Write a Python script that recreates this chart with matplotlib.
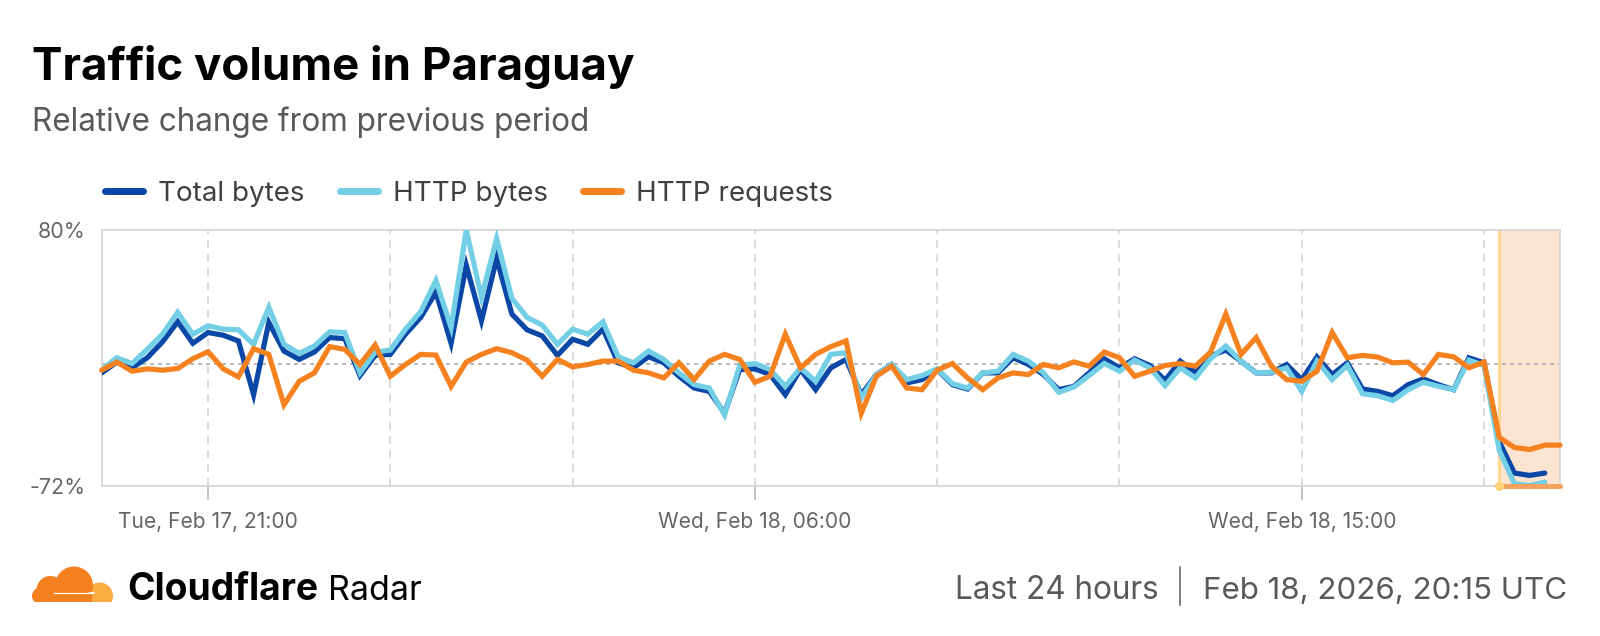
import numpy as np
import pandas as pd
import matplotlib
matplotlib.use("Agg")
import matplotlib.pyplot as plt
from matplotlib.patches import Circle, Rectangle, Polygon
from matplotlib.lines import Line2D

plt.rcParams['font.family'] = ['Inter', 'DejaVu Sans']

# ---------------- data ----------------
title = "Traffic volume in Paraguay"
subtitle = "Relative change from previous period"
series_names = ["Total bytes", "HTTP bytes", "HTTP requests"]
series_colors = ["#0a47a6", "#73cfe5", "#f6821f"]
start_time = "2026-02-17 19:15"

total_bytes = [
    -5, 1.4, -2, 4, 13.4, 25.4, 12.6, 19, 17.4, 14,
    -18, 25, 8, 3, 7.4, 16, 15.4, -6.6, 5.4, 6,
    18, 28, 43, 12.6, 59, 26, 63, 30, 20.6, 17,
    5.4, 15, 12, 21, 1, -2, 4.6, 1, -7, -14,
    -16, -29, -3, -2.6, -6, -18, -3, -15, -2, 3,
    -18, -6, 0, -11, -9, -3, -12, -14.6, -5, -5,
    4, 0, -6, -15, -13, -5, 3.4, -2, 3.4, -0.6,
    -9.4, 2, -4.6, 5, 8.6, 2, -5, -5, 0, -9,
    4.5, -6, 1, -14.6, -16, -18.6, -12, -8.6, -12, -15,
    4, 1, -46, -64.6, -66, -64.6,
]
http_bytes = [
    -3, 4, 0.6, 9, 18, 31, 18, 23, 21, 20.6,
    12, 34, 12, 6.6, 11, 19.4, 19, -5, 7.4, 8.6,
    21, 31.4, 50, 22, 80, 40, 75, 39.4, 28, 23.4,
    12, 21, 18, 25.4, 4.6, 1, 8, 3, -5, -12,
    -14, -30, -0.6, 0.6, -3, -13, -2, -10, 6, 7,
    -20, -6, 0, -9, -6.6, -2.6, -11.4, -14, -5, -4,
    6, 2, -5, -16.6, -13.4, -6.6, 0.6, -4, 2.6, -2,
    -12.6, -2, -8, 3.4, 11, 2, -5, -4.6, -2, -16,
    2, -9, -0.6, -17.4, -18.6, -21.4, -15, -10.6, -13, -15,
    2.6, -0.6, -51, -71, -72, -70,
]
http_requests = [
    -3.4, 1.4, -4, -2.6, -3.4, -2.4, 3.4, 7.6, -2.6, -7.4,
    9.4, 6, -24, -10, -5, 10.6, 9, 0, 11.6, -7,
    0, 6, 5.6, -13, 1.4, 6, 9.4, 7, 2.6, -7,
    3, -1.4, 0, 2, 2, -3.4, -5, -8, 1, -9,
    2, 6, 3, -10.6, -7, 18, -2, 6, 10.6, 14,
    -29, -7, -1, -14, -15, -3.4, 0.6, -8, -15, -8,
    -5, -6, 0, -2, 1.5, -1, 7.4, 4, -7, -4,
    -0.6, 0.6, -1, 7.4, 30, 6, 16, -1, -9, -10,
    -4, 19, 4, 5.4, 4.4, 1, 1.4, -6, 6, 4.6,
    -2, 1.4, -43.4, -49.4, -50.6, -48, -48,
]

y_tick_values = [80, -72]
y_tick_labels = ["80%", "-72%"]
x_tick_times = ["2026-02-17 21:00", "2026-02-18 06:00", "2026-02-18 15:00"]
x_tick_labels = ["Tue, Feb 17, 21:00", "Wed, Feb 18, 06:00", "Wed, Feb 18, 15:00"]
grid_start, grid_end = "2026-02-17 21:00", "2026-02-18 18:00"
highlight_start = "2026-02-18 18:15"
highlight_end = "2026-02-18 19:15"
brand_bold, brand_regular = "Cloudflare", "Radar"
footer_period = "Last 24 hours"
footer_date = "Feb 18, 2026, 20:15 UTC"

# ---------------- figure ----------------
W, H, DPI = 1600, 636, 100
def pt(p):
    return p * 72.0 / DPI

fig = plt.figure(figsize=(W / DPI, H / DPI), dpi=DPI)
fig.patch.set_facecolor("white")

L, R, T, B = 101.7, 1560, 230, 485.5
ax = fig.add_axes([L / W, 1 - B / H, (R - L) / W, (B - T) / H])

times_req = pd.date_range(start_time, periods=len(http_requests), freq="15min")
times_bytes = times_req[:len(total_bytes)]

hs, he = pd.Timestamp(highlight_start), pd.Timestamp(highlight_end)
ax.axvspan(hs, he, color="#fde4d1", lw=0, zorder=0)
for g in pd.date_range(grid_start, grid_end, freq="3h"):
    ax.axvline(g, color="#dcdcdc", lw=pt(2), ls=(0, (4, 3)), zorder=0.5)
ax.axhline(0, color="#a8a8a8", lw=pt(1.6), ls=(0, (2.5, 2.5)), zorder=1)
ax.axvline(hs, color="#fdd78c", lw=pt(3), zorder=1.5)

lw = pt(5.2)
ax.plot(times_bytes, total_bytes, color=series_colors[0], lw=lw,
        solid_joinstyle="miter", solid_capstyle="round", zorder=3)
ax.plot(times_bytes, http_bytes, color=series_colors[1], lw=lw,
        solid_joinstyle="miter", solid_capstyle="round", zorder=4)
ax.plot(times_req, http_requests, color=series_colors[2], lw=lw,
        solid_joinstyle="miter", solid_capstyle="round", zorder=5, clip_on=False)

# incomplete-data marker on the x axis
ax.plot([hs, he], [y_tick_values[1], y_tick_values[1]], color="#f6a25c",
        lw=pt(5), solid_capstyle="round", clip_on=False, zorder=6)
ax.plot([hs], [y_tick_values[1]], "o", color="#fdd278", ms=pt(9),
        mec="none", clip_on=False, zorder=7)

ax.set_xlim(times_req[0], times_req[-1])
ax.set_ylim(y_tick_values[1], y_tick_values[0])
ax.set_yticks(y_tick_values)
ax.set_yticklabels(y_tick_labels)
ax.set_xticks(pd.to_datetime(x_tick_times))
ax.set_xticklabels(x_tick_labels)
ax.tick_params(axis="y", length=0, pad=pt(16), labelsize=pt(21.5), labelcolor="#666666")
ax.tick_params(axis="x", length=pt(14), width=pt(2), color="#c4c4c4", pad=pt(12),
               labelsize=pt(21), labelcolor="#666666")
for s in ax.spines.values():
    s.set_color("#d9d9d9")
    s.set_linewidth(pt(2))

# legend
handles = [Line2D([0], [0], color=c, lw=pt(7), solid_capstyle="round") for c in series_colors]
fig.legend(handles, series_names, loc="center left", bbox_to_anchor=(105 / W, 1 - 194 / H),
           ncol=3, frameon=False, fontsize=pt(27.8), handlelength=1.36, handletextpad=0.55,
           columnspacing=1.27, borderpad=0, borderaxespad=0, labelcolor="#404040")

# ---------------- overlay for texts & logo (pixel coordinates) ----------------
ov = fig.add_axes([0, 0, 1, 1], zorder=10)
ov.set_xlim(0, W)
ov.set_ylim(H, 0)
ov.axis("off")

ov.text(32, 80, title, fontsize=pt(45.7), fontweight="bold", color="#000000", va="baseline")
ov.text(32, 131, subtitle, fontsize=pt(31.5), color="#595959", va="baseline")

# logo
clip = Rectangle((20, 540), 110, 61.7, transform=ov.transData)
cloud_parts = [
    (Circle((99.5, 596), 13.5), "#fbad41"),
    (Circle((74, 585.5), 19), "#f48120"),
    (Circle((50.5, 590), 14), "#f48120"),
    (Circle((40.5, 596), 8.5), "#f48120"),
    (Rectangle((40, 590), 52, 12), "#f48120"),
]
for p, c in cloud_parts:
    p.set_facecolor(c)
    p.set_edgecolor("none")
    ov.add_patch(p)
    p.set_clip_path(clip)
ov.plot([53, 92], [592.8, 592.8], color="white", lw=pt(1.3), solid_capstyle="butt")
star = Polygon([(88, 592.8), (93, 591.6), (95.5, 592.8), (93, 594.0)], closed=True,
               facecolor="white", edgecolor="none")
ov.add_patch(star)

tb = ov.text(127, 600, brand_bold, fontsize=pt(37.2), fontweight="bold", color="#000000", va="baseline")
fig.canvas.draw()
bb = tb.get_window_extent()
ov.text(bb.x1 + 10, 600, brand_regular, fontsize=pt(34), color="#000000", va="baseline")

td = ov.text(1567, 599, footer_date, fontsize=pt(31.3), color="#595959", va="baseline", ha="right")
fig.canvas.draw()
bd = td.get_window_extent()
sep_x = bd.x0 - 23
ov.plot([sep_x, sep_x], [567, 605], color="#595959", lw=pt(1.5))
ov.text(sep_x - 21, 599, footer_period, fontsize=pt(31.5), color="#595959", va="baseline", ha="right")

fig.savefig("out.png", dpi=DPI, facecolor="white")
